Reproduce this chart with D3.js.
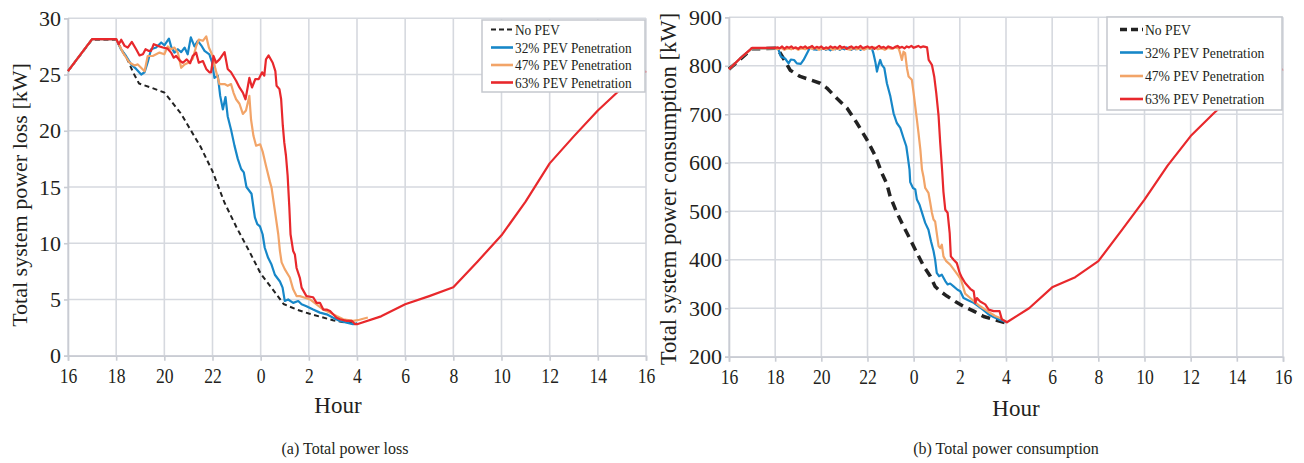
<!DOCTYPE html>
<html><head><meta charset="utf-8">
<script src="https://cdn.jsdelivr.net/npm/d3@7"></script>
<style>body{margin:0;background:#fff}svg{display:block}</style>
</head><body>
<svg id="c" width="1304" height="463"></svg>
<script>
// ---------- DATA ----------
const hourTicks = [16,18,20,22,24,26,28,30,32,34,36,38,40]; // 24 = midnight, labels mod 24
const seriesNames = ["No PEV","32% PEV Penetration","47% PEV Penetration","63% PEV Penetration"];
const lossTicks = [0,5,10,15,20,25,30];
const consTicks = [200,300,400,500,600,700,800,900];

// (a) Total power loss [kW]
const lossNoPEV = [[16,25.3],[17,28.1],[18,28.1],[18.2,27.3],[18.5,26.2],[18.7,25.2],[18.95,24.2],[19.5,23.8],[20,23.4],[20.3,22.6],[20.7,21.5],[21,20.4],[21.5,18.6],[22,16.4],[22.5,13.6],[23,11.4],[23.5,9.4],[24,7.3],[24.5,5.9],[24.95,4.6],[25.5,4.1],[26,3.75],[26.5,3.45],[27,3.15],[27.5,2.95],[28,2.85]];
const loss32 = [[16,25.3],[17,28.15],[18,28.15],[18.2,27.25],[18.41,26.65],[18.62,25.9],[18.83,25.5],[19.04,25.0],[19.18,25.2],[19.31,26.1],[19.45,27.25],[19.66,27.4],[19.87,27.85],[20.0,27.6],[20.19,28.2],[20.28,27.5],[20.42,26.95],[20.56,27.25],[20.7,27.0],[20.84,27.4],[20.97,26.8],[21.1,28.3],[21.25,27.5],[21.39,28.0],[21.53,27.6],[21.67,27.1],[21.87,26.8],[21.98,26.1],[22.08,24.7],[22.22,24.9],[22.32,23.1],[22.43,21.9],[22.54,23.0],[22.63,21.3],[22.77,20.1],[22.91,18.7],[23.05,17.5],[23.19,16.6],[23.3,16.3],[23.41,15.0],[23.62,14.4],[23.76,12.3],[23.86,11.7],[23.97,11.5],[24.08,10.8],[24.17,9.6],[24.31,8.7],[24.45,8.1],[24.59,7.2],[24.8,6.6],[24.91,6.05],[25.0,4.87],[25.14,5.0],[25.35,4.7],[25.56,4.86],[25.7,4.57],[25.9,4.4],[26.18,4.1],[26.46,3.83],[26.74,3.68],[27.01,3.38],[27.29,3.09],[27.57,2.94],[27.84,2.8],[28,2.85]];
const loss47 = [[16,25.3],[17,28.15],[18,28.15],[18.28,26.95],[18.55,26.07],[18.76,25.8],[18.9,25.9],[19.18,25.3],[19.31,26.65],[19.52,26.65],[19.8,26.95],[20.0,26.8],[20.14,27.5],[20.28,27.25],[20.42,27.4],[20.56,26.95],[20.7,25.6],[20.84,25.9],[21.04,26.1],[21.18,26.4],[21.32,27.5],[21.43,28.1],[21.6,28.0],[21.74,28.4],[21.85,27.4],[22.01,26.65],[22.12,25.5],[22.29,24.15],[22.5,24.15],[22.63,24.0],[22.77,24.15],[22.87,23.4],[22.98,22.8],[23.12,22.4],[23.26,21.5],[23.39,21.8],[23.53,23.1],[23.6,21.0],[23.7,19.55],[23.81,18.67],[23.98,18.8],[24.09,18.1],[24.22,16.9],[24.38,15.5],[24.45,14.96],[24.59,12.9],[24.73,10.8],[24.8,9.3],[24.87,8.3],[25.0,7.7],[25.14,7.2],[25.21,6.95],[25.35,5.9],[25.49,5.3],[25.63,5.3],[25.77,5.2],[26.05,5.0],[26.32,4.57],[26.6,4.1],[26.88,3.83],[27.15,3.53],[27.43,3.24],[27.84,3.1],[28.1,3.2],[28.45,3.4]];
const loss63 = [[16,25.3],[17,28.15],[18,28.15],[18.11,27.7],[18.21,28.1],[18.35,27.55],[18.48,27.4],[18.65,27.9],[18.83,27.25],[18.97,26.7],[19.11,26.8],[19.22,27.25],[19.36,27.1],[19.45,27.1],[19.56,27.7],[19.73,27.55],[19.94,27.4],[20.14,27.3],[20.28,26.95],[20.39,26.5],[20.49,26.65],[20.66,26.2],[20.77,26.05],[20.93,26.35],[21.07,26.0],[21.18,26.65],[21.32,26.95],[21.43,26.05],[21.6,26.2],[21.74,25.5],[21.87,25.2],[21.94,25.2],[22.04,26.65],[22.15,26.05],[22.29,26.35],[22.5,27.0],[22.63,25.5],[22.77,25.2],[22.98,24.45],[23.12,23.85],[23.26,23.4],[23.37,22.8],[23.46,23.85],[23.53,24.7],[23.64,23.85],[23.78,24.6],[23.92,24.6],[24.06,25.2],[24.15,24.9],[24.22,26.35],[24.33,26.7],[24.5,26.05],[24.61,25.3],[24.66,24.0],[24.78,23.7],[24.85,22.8],[24.92,20.45],[24.98,18.96],[25.05,17.8],[25.12,16.0],[25.19,13.2],[25.24,10.8],[25.35,9.3],[25.42,9.0],[25.49,7.8],[25.63,6.9],[25.7,6.05],[25.9,5.3],[26.18,5.2],[26.32,4.7],[26.46,4.7],[26.6,4.1],[26.74,4.1],[26.88,3.98],[27.01,3.68],[27.15,3.38],[27.29,3.24],[27.57,3.1],[27.78,3.1],[27.92,2.8],[28.0,2.8]];
const lossTail = [[28,2.8],[29,3.5],[30,4.57],[31,5.3],[32,6.08],[33,8.36],[34,10.7],[35,13.7],[36,17.1],[37,19.5],[38,21.8],[39,23.8],[40,25.3]];

// (b) Total power consumption [kW]
const consNoPEV = [[16,793],[16.5,814],[17,835],[18,836],[18.14,832],[18.36,815],[18.65,791],[19.08,778],[19.52,771],[19.95,764],[20.24,754],[20.67,733],[21.11,713],[21.54,682],[21.97,648],[22.34,614],[22.62,579],[22.84,556],[22.98,531],[23.27,497],[23.56,469],[23.85,442],[24.14,414],[24.43,387],[24.72,366],[24.93,345],[25.15,335],[25.44,325],[25.8,314],[26.16,304],[26.6,294],[27.03,283],[27.46,277],[27.9,271],[28,270]];
const cons32 = [[16,793],[16.5,816],[17,836],[18,836],[18.14,834],[18.25,819],[18.43,815],[18.58,805],[18.68,813],[18.82,812],[18.94,805],[19.11,804],[19.23,812],[19.37,825],[19.52,839],[19.66,834],[19.8,833],[19.9,836],[20.0,834],[20.1,837],[20.2,833],[20.3,835],[20.4,832],[20.5,836],[20.6,834],[20.7,837],[20.8,833],[20.9,836],[21.0,834],[21.1,838],[21.2,835],[21.3,833],[21.4,837],[21.5,834],[21.6,836],[21.7,833],[21.8,837],[21.9,835],[22.0,838],[22.1,835],[22.19,836],[22.26,825],[22.34,808],[22.41,788],[22.48,802],[22.55,812],[22.62,802],[22.73,795],[22.84,764],[22.99,737],[23.13,702],[23.27,682],[23.42,672],[23.56,651],[23.68,634],[23.74,614],[23.82,586],[23.85,560],[23.97,548],[24.07,545],[24.14,524],[24.25,514],[24.36,497],[24.5,476],[24.64,462],[24.75,438],[24.86,418],[24.93,400],[25.0,373],[25.1,366],[25.22,369],[25.37,356],[25.47,349],[25.58,351],[25.73,345],[25.9,338],[26.02,335],[26.16,321],[26.38,316],[26.6,311],[26.81,304],[27.03,296],[27.25,287],[27.46,282],[27.68,277],[27.9,273],[28,271]];
const cons47 = [[16,793],[16.5,816],[17,836],[18,836],[18.1,834],[18.25,837],[18.4,833],[18.55,836],[18.7,834],[18.85,837],[19.0,833],[19.15,836],[19.3,834],[19.45,838],[19.6,835],[19.75,837],[19.9,833],[20.05,836],[20.2,834],[20.35,837],[20.5,833],[20.65,836],[20.8,834],[20.95,838],[21.1,835],[21.25,833],[21.4,837],[21.55,834],[21.7,836],[21.85,833],[22.0,837],[22.15,835],[22.3,838],[22.45,834],[22.6,836],[22.75,833],[22.9,837],[23.05,835],[23.2,838],[23.35,836],[23.42,825],[23.49,812],[23.56,829],[23.63,826],[23.71,795],[23.78,778],[23.92,771],[24.0,743],[24.07,716],[24.14,689],[24.21,661],[24.29,627],[24.36,586],[24.43,570],[24.5,548],[24.64,538],[24.72,517],[24.79,497],[24.86,483],[24.93,479],[25.0,455],[25.08,428],[25.15,424],[25.22,431],[25.29,407],[25.41,397],[25.58,390],[25.8,376],[25.95,366],[26.05,359],[26.23,330],[26.45,321],[26.67,312],[26.88,304],[27.1,297],[27.32,290],[27.53,284],[27.75,280],[27.97,273],[28,272]];
const cons63 = [[16,793],[16.5,816],[17,837],[18,837],[18.1,838],[18.2,836],[18.3,840],[18.4,835],[18.5,839],[18.6,837],[18.7,840],[18.8,836],[18.9,838],[19.0,835],[19.1,839],[19.2,837],[19.3,840],[19.4,836],[19.5,838],[19.6,841],[19.7,836],[19.8,839],[19.9,837],[20.0,840],[20.1,835],[20.2,838],[20.3,836],[20.4,840],[20.5,837],[20.6,839],[20.7,836],[20.8,841],[20.9,837],[21.0,839],[21.1,835],[21.2,838],[21.3,840],[21.4,836],[21.5,839],[21.6,837],[21.7,841],[21.8,836],[21.9,838],[22.0,840],[22.1,837],[22.2,839],[22.3,835],[22.4,838],[22.5,841],[22.6,837],[22.7,839],[22.8,836],[22.9,840],[23.0,838],[23.1,836],[23.2,839],[23.3,841],[23.4,837],[23.5,839],[23.6,836],[23.7,840],[23.8,838],[23.9,841],[24.0,837],[24.1,839],[24.2,841],[24.3,838],[24.4,840],[24.5,839],[24.58,838],[24.65,812],[24.79,802],[24.89,778],[24.98,743],[25.08,696],[25.15,641],[25.23,586],[25.29,540],[25.37,503],[25.47,497],[25.56,455],[25.61,407],[25.73,400],[25.87,393],[25.99,373],[26.09,363],[26.23,352],[26.45,340],[26.6,335],[26.67,311],[26.74,321],[26.88,314],[27.1,308],[27.25,297],[27.46,294],[27.72,294],[27.82,277],[27.97,273],[28.04,271]];
const consTail = [[28.04,271],[29,300],[30,343],[31,364],[32,397],[33,460],[34,524],[35,594],[36,655],[37,702],[38,745],[39,775],[40,793]];

const colors = ["#222222","#1787c8","#f2a468","#e8282c"];

// ---------- DRAW ----------
const svg = d3.select("#c");
const FONT = "'Liberation Serif','Times New Roman',serif";
const GRID = "#d6d9df";

function panel(cfg){
  const x = d3.scaleLinear().domain([16,40]).range([cfg.x0, cfg.x1]);
  const y = d3.scaleLinear().domain(cfg.yDomain).range([cfg.yBot, cfg.yTop]);
  const g = svg.append("g");
  g.append("g").selectAll("line").data(hourTicks).join("line")
    .attr("x1", d=>x(d)).attr("x2", d=>x(d)).attr("y1", cfg.yTop).attr("y2", cfg.yBot)
    .attr("stroke", GRID).attr("stroke-width", 1.6);
  g.append("g").selectAll("line").data(cfg.yTicks).join("line")
    .attr("x1", cfg.x0).attr("x2", cfg.x1).attr("y1", d=>y(d)).attr("y2", d=>y(d))
    .attr("stroke", GRID).attr("stroke-width", 1.6);
  const xa = g.append("g").attr("transform", `translate(0,${cfg.yBot})`)
    .call(d3.axisBottom(x).tickValues(hourTicks).tickSize(5).tickPadding(4).tickFormat(d=>String(d%24)));
  xa.select(".domain").attr("stroke", "#c9ccd3").attr("stroke-width", 1.6);
  xa.selectAll(".tick line").attr("stroke", "#c9ccd3").attr("stroke-width", 1.6);
  xa.selectAll(".tick text").attr("font-family", FONT).attr("font-size", 22).attr("fill", "#231f20")
    .attr("y", 0).attr("dy", 0)
    .attr("transform", `translate(0,${cfg.xLabelBase}) scale(0.8,1)`);
  const ya = g.append("g").attr("transform", `translate(${cfg.x0},0)`)
    .call(d3.axisLeft(y).tickValues(cfg.yTicks).tickSize(4).tickPadding(3));
  ya.select(".domain").attr("stroke", "#c9ccd3").attr("stroke-width", 1.6);
  ya.selectAll(".tick line").attr("stroke", "#c9ccd3").attr("stroke-width", 1.6);
  ya.selectAll(".tick text").attr("font-family", FONT).attr("font-size", 22).attr("fill", "#231f20");

  const line = d3.line().x(d=>x(d[0])).y(d=>y(d[1]));
  const lg = g.append("g").attr("fill","none").attr("stroke-linejoin","round");
  cfg.series.forEach((s,i)=>{
    lg.append("path").attr("d", line(s)).attr("stroke", colors[i])
      .attr("stroke-width", i===0 ? cfg.dashW : 2.2)
      .attr("stroke-dasharray", i===0 ? cfg.dash : null);
  });

  const L = cfg.legend;
  const leg = g.append("g");
  leg.append("rect").attr("x", L.x).attr("y", L.y).attr("width", L.w).attr("height", L.h)
    .attr("fill", "#fff").attr("stroke", "#c5c8ce").attr("stroke-width", 1.5);
  seriesNames.forEach((n,i)=>{
    const ry = L.rows[i];
    leg.append("line").attr("x1", L.lx1).attr("x2", L.lx2).attr("y1", ry).attr("y2", ry)
      .attr("stroke", colors[i]).attr("stroke-width", i===0 ? cfg.dashW : 2.6)
      .attr("stroke-dasharray", i===0 ? cfg.legDash : null);
    leg.append("text").text(n).attr("font-family", FONT).attr("font-size", 15.5).attr("fill", "#231f20")
      .attr("transform", `translate(${L.tx},${ry+5}) scale(${L.sx},1)`);
  });

  svg.append("text").text(cfg.yTitle).attr("font-family", FONT).attr("font-size", cfg.yTitleSize).attr("fill", "#231f20")
    .attr("text-anchor", "middle")
    .attr("transform", `translate(${cfg.yTitleX},${cfg.yTitleY}) rotate(-90)`);
  svg.append("text").text("Hour").attr("font-family", FONT).attr("font-size", 23).attr("fill", "#231f20")
    .attr("text-anchor", "middle").attr("x", cfg.hourX).attr("y", cfg.hourY);
  svg.append("text").text(cfg.caption).attr("font-family", FONT).attr("font-size", 16).attr("fill", "#231f20")
    .attr("text-anchor", "middle").attr("x", cfg.capX).attr("y", 454);
}

panel({
  x0:68, x1:646, yTop:18.3, yBot:355.7, yDomain:[0,30], yTicks:lossTicks, xLabelBase:27,
  series:[lossNoPEV, loss32, loss47, loss63.concat(lossTail)],
  dash:"5,3.5", dashW:2, legDash:"5,3",
  legend:{x:482,y:20,w:163,h:72,rows:[29.5,47.5,65,82.5],lx1:491,lx2:513,tx:515,sx:0.86},
  yTitle:"Total system power loss [kW]", yTitleSize:22, yTitleX:27, yTitleY:195,
  hourX:338, hourY:413, caption:"(a) Total power loss", capX:345
});
panel({
  x0:729, x1:1283, yTop:17.3, yBot:356.7, yDomain:[200,900], yTicks:consTicks, xLabelBase:27,
  series:[consNoPEV, cons32, cons47, cons63.concat(consTail)],
  dash:"9,6", dashW:3.5, legDash:"7,4",
  legend:{x:1107,y:17,w:175,h:93,rows:[29.5,52.5,76,99],lx1:1120,lx2:1143,tx:1145,sx:0.88},
  yTitle:"Total system power consumption [kW]", yTitleSize:22.6, yTitleX:676, yTitleY:189,
  hourX:1016, hourY:416, caption:"(b) Total power consumption", capX:1006
});
</script>
</body></html>
